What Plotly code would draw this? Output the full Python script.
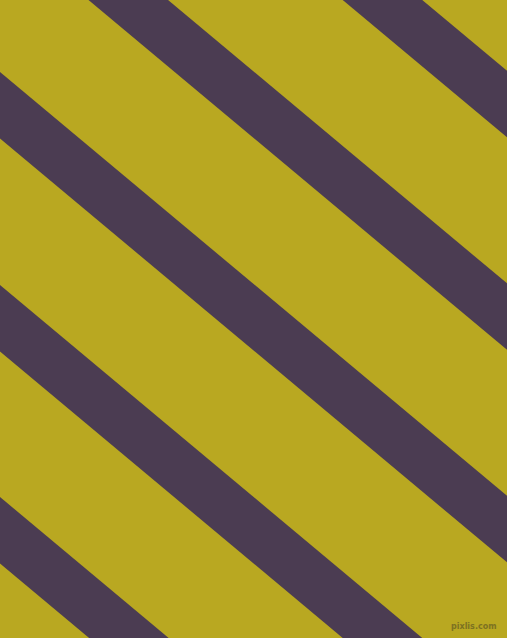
import plotly.graph_objects as go

# cores
fundo = "#B9A821"
listra = "#4B3C52"

# listras: y da borda de cima em x=0, espessura vertical e inclinacao
topos = [-353, -140.5, 72, 285, 497]
espessura = 66.5
inclinacao = 0.836

largura = 507
altura = 638

fig = go.Figure()
for t in topos:
    xs = [-50, largura + 50, largura + 50, -50, -50]
    ys = [t + inclinacao * x for x in xs[:2]]
    ys += [ys[1] + espessura, ys[0] + espessura, ys[0]]
    fig.add_trace(go.Scatter(x=xs, y=ys, mode="lines", fill="toself",
                             fillcolor=listra, line=dict(width=0),
                             hoverinfo="skip", showlegend=False))

# marca d'agua
fig.add_annotation(x=499, y=626, xref="x", yref="y", text="<b>pixlis.com</b>",
                   showarrow=False, xanchor="right", yanchor="middle",
                   font=dict(family="DejaVu Sans", size=8, color="#7D7222"))

fig.update_xaxes(range=[0, largura], visible=False, fixedrange=True)
fig.update_yaxes(range=[altura, 0], visible=False, fixedrange=True)
fig.update_layout(width=largura, height=altura, autosize=False,
                  margin=dict(l=0, r=0, t=0, b=0),
                  paper_bgcolor=fundo, plot_bgcolor=fundo)

fig.write_html("out.html", config={"displayModeBar": False},
               post_script="document.body.style.margin='0';")
